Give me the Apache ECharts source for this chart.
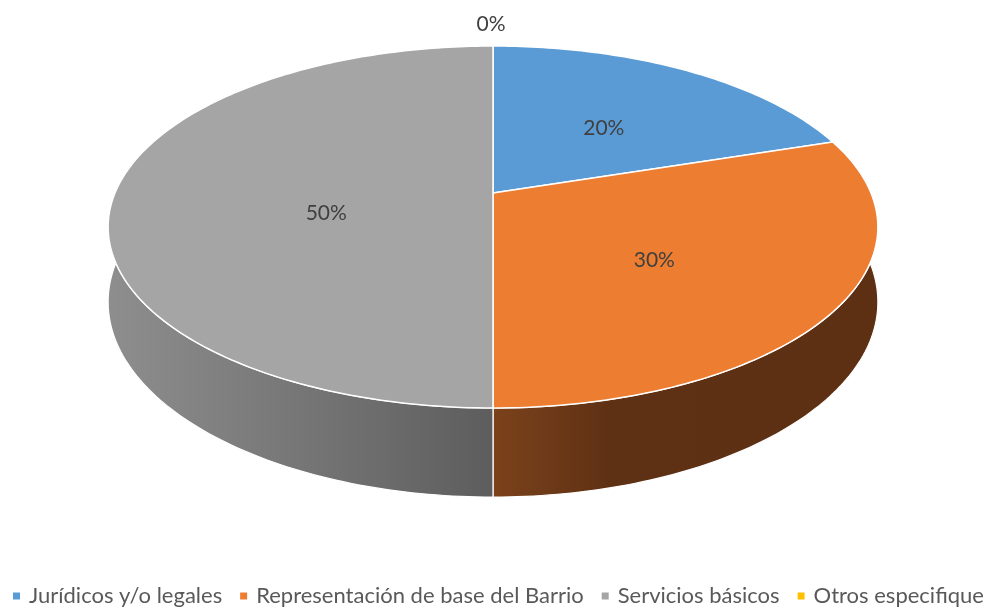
<!DOCTYPE html>
<html>
<head>
<meta charset="utf-8">
<script src="https://cdn.jsdelivr.net/npm/echarts@6/dist/echarts.min.js"></script>
<style>
  html, body { margin: 0; padding: 0; background: #fff; }
  #chart { width: 991px; height: 607px; }
</style>
</head>
<body>
<div id="chart"></div>
<script>
const categories = ['Jurídicos y/o legales', 'Representación de base del Barrio', 'Servicios básicos', 'Otros especifique']
const values = [20, 30, 50, 0]
const topColors = ['#5B9BD5', '#ED7D31', '#A5A5A5', '#FFC000']
// side wall shading: [light end, mid, dark end] and where the mid stop sits
const sideColors = [
  ['#3f6f9c', '#335d84', '#2f5578'],
  ['#7b421b', '#5f3114', '#5e3013'],
  ['#8e8e8e', '#767676', '#5d5d5d'],
  ['#b38600', '#9a7400', '#8a6700']
]
const sideMid = [0.5, 0.3, 0.5, 0.5]

// perspective view of the tilted disc (Excel-like 3D pie)
const VIEW = { cx: 493, cy: 193, sx: 378, sy: 174.6, k: 0.188, depth: 72.3 }

const total = values.reduce((s, v) => s + v, 0)
const startAngles = []
values.reduce((acc, v, i) => {
  startAngles[i] = acc
  return acc + 2 * Math.PI * v / total
}, 0)

const project = (r, ang, down) => {
  const u = r * Math.sin(ang)
  const v = r * Math.cos(ang)
  const w = 1 + VIEW.k * v
  return [VIEW.cx + VIEW.sx * u / w, VIEW.cy + (-VIEW.sy * v + (down ? VIEW.depth : 0)) / w]
}

const arc = (a0, a1, down) => {
  const n = Math.max(2, Math.ceil((a1 - a0) / (Math.PI / 180)))
  const pts = []
  for (let j = 0; j <= n; j++) {
    pts.push(project(1, a0 + (a1 - a0) * j / n, down))
  }
  return pts
}

// area centroid of the drawn top face
const centroid = (pts) => {
  let a = 0, x = 0, y = 0
  for (let j = 0; j < pts.length; j++) {
    const p = pts[j], q = pts[(j + 1) % pts.length]
    const c = p[0] * q[1] - q[0] * p[1]
    a += c
    x += (p[0] + q[0]) * c
    y += (p[1] + q[1]) * c
  }
  return [x / (3 * a), y / (3 * a)]
}

const renderSlice = (i) => (params, api) => {
  const a0 = startAngles[i]
  const a1 = a0 + 2 * Math.PI * values[i] / total
  const children = []
  let pos
  if (a1 > a0) {
    const top = arc(a0, a1, false)
    const bottom = arc(a0, a1, true).reverse()
    const face = [project(0, 0, false)].concat(top)
    children.push({
      type: 'polygon',
      z2: 1,
      shape: { points: top.concat(bottom) },
      style: {
        fill: new echarts.graphic.LinearGradient(0, 0, 1, 0, [
          { offset: 0, color: sideColors[i][0] },
          { offset: sideMid[i], color: sideColors[i][1] },
          { offset: 1, color: sideColors[i][2] }
        ]),
        stroke: '#fff',
        lineWidth: 1.2
      }
    })
    children.push({
      type: 'polygon',
      z2: 10,
      shape: { points: face },
      style: { fill: topColors[i], stroke: '#fff', lineWidth: 1.5 }
    })
    // label between the face centroid and the mid-angle point
    const c = centroid(face)
    const m = project(0.45, (a0 + a1) / 2, false)
    pos = [(c[0] + m[0]) / 2, (c[1] + m[1]) / 2 + 3]
  } else {
    pos = project(1, a0, false)
    pos = [pos[0] - 2, pos[1] - 22]
  }
  children.push({
    type: 'text',
    z2: 20,
    style: {
      x: pos[0],
      y: pos[1],
      text: Math.round(values[i] / total * 100) + '%',
      fill: '#404040',
      fontSize: 21,
      fontFamily: 'Lato',
      align: 'center',
      verticalAlign: 'middle'
    }
  })
  return { type: 'group', children }
}

const chart = echarts.init(document.getElementById('chart'))

chart.setOption({
  animation: false,
  color: topColors,
  legend: {
    data: categories,
    left: 8,
    top: 580,
    width: 2000,
    icon: 'rect',
    itemWidth: 7,
    itemHeight: 7,
    itemGap: 18,
    textStyle: {
      color: '#595959',
      fontSize: 22,
      fontFamily: 'Lato',
      padding: [0, 0, 0, 4]
    }
  },
  series: categories.map((name, i) => ({
    type: 'custom',
    name: name,
    coordinateSystem: 'none',
    silent: true,
    itemStyle: { color: topColors[i] },
    renderItem: renderSlice(i),
    data: [values[i]]
  }))
})
</script>
</body>
</html>
